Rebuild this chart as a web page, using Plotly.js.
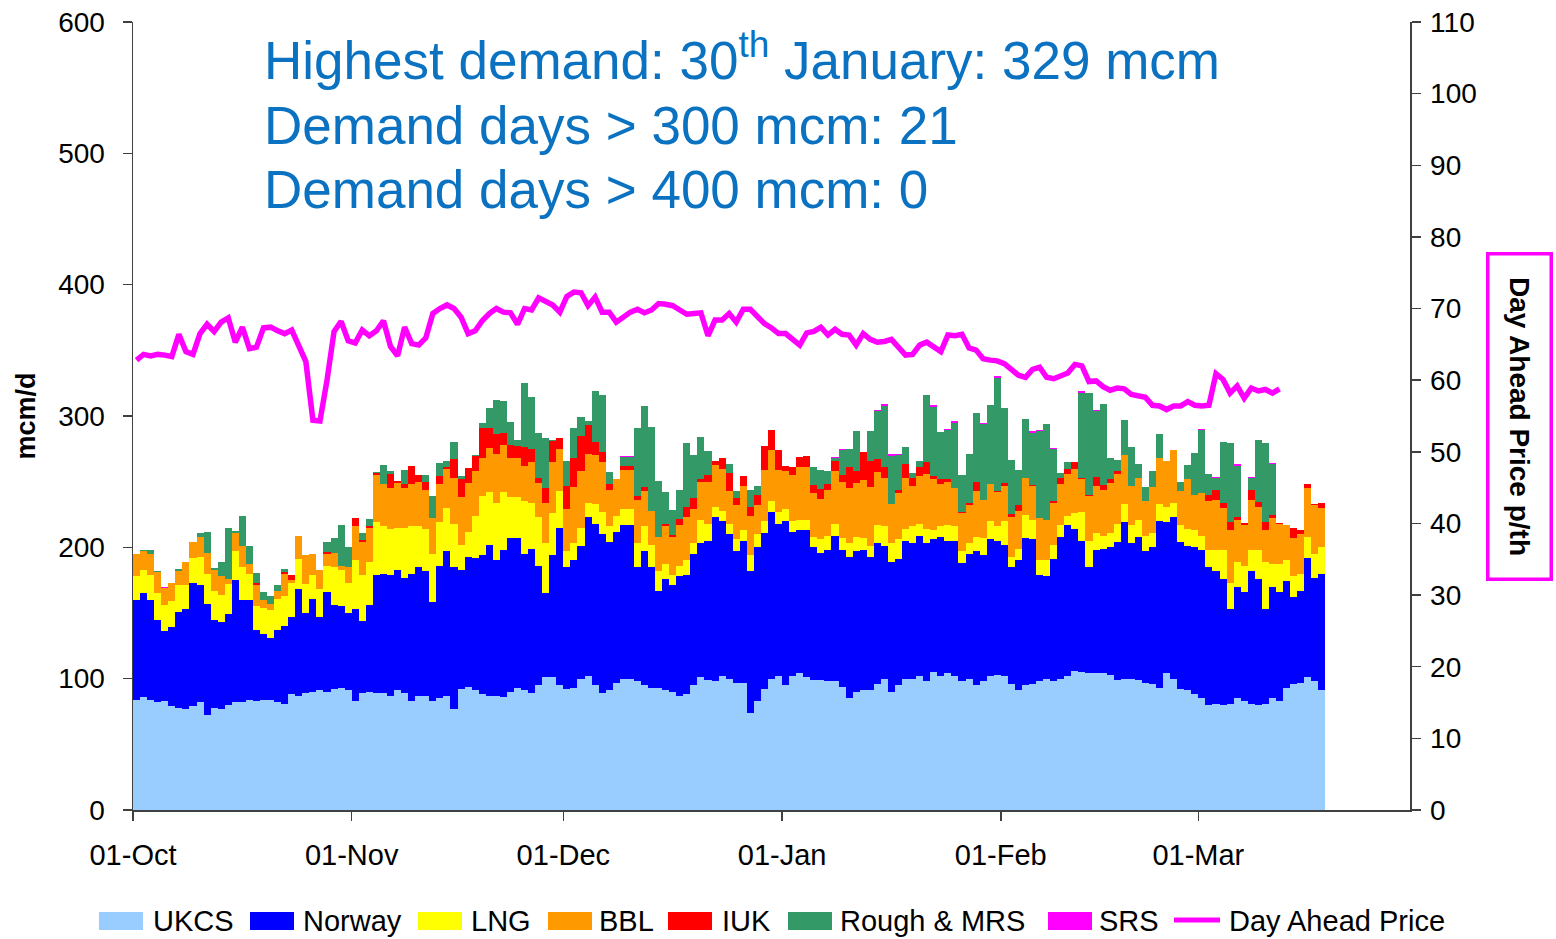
<!DOCTYPE html>
<html>
<head>
<meta charset="utf-8">
<script src="https://cdn.plot.ly/plotly-3.0.1.min.js"></script>
<style>
  html, body { margin: 0; padding: 0; background: #ffffff; }
  #chart { width: 1556px; height: 939px; }
</style>
</head>
<body>
<div id="chart"></div>
<script>
// ---- Data (daily, from 01-Oct) ----
const startDate = '2010-10-01';
const tickDates = ['2010-10-01','2010-11-01','2010-12-01','2011-01-01','2011-02-01','2011-03-01'];
const tickLabels = ['01-Oct','01-Nov','01-Dec','01-Jan','01-Feb','01-Mar'];

const ukcs = [84,86,84,82,83,79,78,77,79,82,
72,78,77,80,82,82,84,83,84,84,
82,81,88,87,89,90,91,90,92,93,
91,83,89,90,89,89,87,91,89,83,
87,87,83,85,87,77,92,94,91,88,
87,87,86,90,93,91,89,95,101,101,
95,92,93,100,102,95,89,91,97,100,
100,98,95,93,93,91,90,87,88,95,
101,99,98,102,100,97,97,74,83,92,
100,102,95,102,104,101,99,99,98,98,
94,85,90,91,91,96,100,90,95,100,
100,102,98,105,102,104,102,98,100,95,
98,102,103,102,96,91,95,96,98,100,
98,100,102,106,105,104,104,104,103,99,
100,100,99,97,96,93,104,100,92,91,
88,85,80,81,80,81,85,83,81,80,
81,85,83,93,96,97,101,98,91];

const norway = [76,79,76,63,53,60,73,76,94,89,
85,67,66,69,93,78,76,54,50,47,
55,59,59,81,61,71,56,76,64,62,
59,70,55,66,90,91,92,92,88,97,
98,95,75,101,110,108,91,99,101,106,
115,103,112,117,114,104,110,91,64,93,
120,93,97,101,121,123,121,113,115,117,
117,87,102,92,74,85,81,91,91,100,
102,106,125,118,110,100,108,108,117,119,
127,116,125,110,109,112,101,97,100,111,
104,108,107,107,102,107,101,99,96,105,
103,107,105,101,106,101,103,90,95,102,
96,104,102,100,89,99,112,110,81,78,
93,108,115,108,100,81,94,95,97,105,
119,103,109,100,104,127,115,123,112,110,
112,113,105,101,96,72,85,83,101,96,
72,85,83,81,66,70,91,79,89];

const lng = [18,18,19,20,20,20,20,18,19,22,
23,22,21,23,22,25,20,18,20,21,
24,23,26,23,22,18,21,20,29,28,
23,37,35,33,40,36,35,32,38,36,
31,32,37,33,33,33,19,19,32,45,
40,44,44,31,31,40,35,37,38,32,
28,12,13,14,11,15,17,12,12,12,
12,18,19,17,15,11,8,8,11,8,
18,13,8,8,8,9,8,12,10,9,
8,9,9,8,8,8,8,10,11,9,
9,10,11,9,8,14,15,14,15,9,
13,9,11,7,8,12,11,9,8,11,
13,14,11,18,8,9,18,15,11,12,
11,9,7,12,22,20,13,10,11,14,
14,14,13,12,11,13,12,11,13,13,
13,11,13,16,22,20,19,20,16,22,
36,17,21,16,16,13,16,18,20];

const bbl = [17,14,16,16,13,14,11,18,12,15,
16,16,14,4,14,16,7,16,6,5,
6,17,2,18,22,16,15,9,11,3,
12,26,25,26,36,32,31,34,30,32,
34,30,27,29,30,35,36,37,34,29,
34,37,36,30,30,27,31,26,31,39,
32,32,43,43,37,37,38,28,28,30,
30,33,27,26,26,29,29,31,33,26,
29,32,32,32,25,26,34,30,22,39,
39,32,29,35,40,40,33,31,35,40,
43,42,41,44,45,40,37,30,35,39,
31,36,42,39,32,33,29,29,29,35,
29,28,26,27,30,29,28,26,32,31,
32,31,32,34,25,34,36,35,38,38,
37,30,32,26,35,35,35,40,26,38,
27,32,37,38,32,40,32,31,38,33,
24,35,31,27,29,30,37,37,30];

const iuk = [0,0,0,0,0,0,0,0,0,0,
0,0,0,0,0,0,0,2.1,0,0,
0,1.6,3.9,0,0,0,0,1.3,0,0,
0,6,1.3,1,1.3,0,10.5,1.3,3.1,13.7,
5.3,5.8,0,6,1.3,14.4,14.4,11.6,11.3,22.8,
15,15.2,9.2,9.7,8.9,14.4,9.7,3.7,11,16.3,
7.9,17.6,21.8,27,21.8,10,7.9,4.2,0,3.1,
3.1,3.4,2.6,0,0,1.8,1.6,4.5,7.9,8.7,
2.1,5.3,2.4,7.9,13.7,5.8,7.4,6.8,7.6,17.9,
15,15,3.9,6,8.1,8.7,6.3,7.4,4.5,7.4,
5.3,15.8,9.2,21.8,19.7,10,7.9,0,2.6,10.2,
5.8,7.1,8.7,2.6,3.7,2.1,0,1,1.6,6.6,
0,0,0.8,2.1,2.1,3.9,0,0.8,0,0,
1.6,4.5,3.9,4.7,1,1,6.6,3.4,3.1,1.8,
0,0,0,0,0,0,0,0,0,0,
0,0,4.7,7.6,3.7,6.6,2.4,1.3,7.6,3.7,
6.6,2.4,0.8,0,7.9,3.4,2.9,1.3,3.9];

const rough = [0,0.8,2.9,1.3,0,0,1.6,0,0,2.6,
16,1.3,10.5,38.6,1.3,22.8,13.7,7.1,6,6,
4.5,1.6,0,0,0,0,0,7.4,11.3,31.2,
15,0,5.8,5.5,1.3,14.4,2.6,0,10.5,0,
0,5.5,16.8,10,4.2,13.1,2.1,0,0.8,3.9,
15.2,26,24.2,17.6,4.7,48.8,39.6,34.4,38.3,0.5,
0,18.9,23.4,13.9,3.1,39.4,43.3,8.9,0,6.6,
6.6,51.2,61.7,63.8,42.3,24.2,18.9,21.8,48.3,32.8,
31.8,17.9,0,0,6.8,5.3,0,13.1,7.1,0,
0,0,0,0,0,0,13.7,14.2,9.5,2.4,
18.6,13.7,30.7,0,22.8,36.8,47,36.8,26.8,13.4,
3.9,4.5,51.2,52.5,36.5,37,49.9,27.8,37.3,53,
58,60.1,86.4,57,41.2,26.8,44.6,39.6,66.4,72.7,
38.9,4.2,5.3,0,64.8,77.7,50.1,61.4,15.8,8.7,
27.3,29.4,10.5,11.3,11.8,18.4,0,0,6.6,10.5,
32,48,15.8,9.2,46.7,59.6,38.9,0,9.2,46.7,
59.6,38.9,0,0,0,0,0,0,0];

const srs = [0,0,0,0,0.5,0,0,0,0,0,
0,0,0,0,0,0,0,0,0,0,
0,0,0,0,0,0,0,0,0,0,
0,0,0,0,0,0,0,0,0,0,
0,0,0,0,0,0,0,0,0,0,
0,0,0,0,0,0,0,0,0,0,
0,0,0,0,0,0,0,0,0,1,
1,0,0,0,0,0,0,0,0,0,
0,0,0,0,0,0,0,0,0,0,
0,0,0,0,0,0,0,0,0,1.3,
1,0,0,0,0,1,1,1,0.8,0,
0,0,0,1,0,1,1,0,0,0,
1,0,1,0,0,0,0,1,1,0,
1,0,0,0,1,0,1,0,0,0,
0,0,0,0,0,0,0,0,0,0,
0,1.3,0,0.8,0,0,0.8,0,0.8,0,
0,0.8,0,0,0,0,0,0,0];

const price = [62.8,63.6,63.4,63.6,63.5,63.3,66.4,64.0,63.6,66.5,
67.8,66.8,68.1,68.7,65.3,67.4,64.4,64.6,67.3,67.4,
66.9,66.5,67.0,64.7,62.6,54.4,54.3,60.0,66.8,68.2,
65.5,65.2,67.0,66.2,66.9,68.3,64.7,63.4,67.4,65.1,
64.9,65.9,69.3,70.0,70.5,70.0,68.8,66.5,66.9,68.3,
69.3,70.0,69.5,69.4,67.8,70.0,69.8,71.5,71.0,70.5,
69.5,71.7,72.3,72.2,70.4,71.6,69.5,69.5,68.1,68.8,
69.5,69.9,69.4,69.8,70.7,70.6,70.4,69.8,69.2,69.3,
69.4,66.2,68.4,68.4,69.3,68.1,69.9,69.9,68.9,67.9,
67.3,66.5,66.5,65.7,64.9,66.6,66.8,67.4,66.3,67.1,
66.4,66.3,64.9,66.5,65.7,65.3,65.4,65.7,64.7,63.5,
63.6,64.9,65.3,64.6,64.0,66.3,66.2,66.4,64.5,64.2,
63.0,62.8,62.7,62.3,61.5,60.7,60.4,61.5,61.8,60.4,
60.2,60.7,61.0,62.2,62.0,59.8,59.9,59.1,58.6,58.9,
58.8,58.0,57.8,57.6,56.5,56.4,55.9,56.4,56.4,57.0,
56.5,56.4,56.5,60.9,60.1,58.2,59.2,57.5,58.9,58.5,
58.7,58.2,58.8];

const seriesNames = ['UKCS','Norway','LNG','BBL','IUK','Rough & MRS','SRS'];
const seriesColors = ['#99CCFF','#0000FF','#FFFF00','#FF9900','#FF0000','#339966','#FF00FF'];
const priceName = 'Day Ahead Price';
const priceColor = '#FF00FF';

const infoLines = [
  'Highest demand: 30<sup>th</sup> January: 329 mcm',
  'Demand days > 300 mcm: 21',
  'Demand days > 400 mcm: 0'
];

// ---- Build ----
const DAY = 86400000;
const t0 = Date.parse(startDate + 'T00:00:00Z');
function dayCenter(i) {
  return new Date(t0 + i * DAY + DAY / 2).toISOString().slice(0, 19).replace('T', ' ');
}

const FONT = 'Liberation Sans, Arial, sans-serif';
const W = 1556, H = 939;
const L = 133, R = 1410, T = 22, B = 810;
const px2x = p => (p - L) / (R - L);
const py2y = p => (B - p) / (B - T);

const allSeries = [ukcs, norway, lng, bbl, iuk, rough, srs];
const traces = allSeries.map((vals, k) => ({
  type: 'bar',
  name: seriesNames[k],
  x: vals.map((_, i) => dayCenter(i)),
  y: vals,
  marker: { color: seriesColors[k], line: { width: 0 } },
  showlegend: false,
  yaxis: 'y'
}));
traces.push({
  type: 'scatter',
  mode: 'lines',
  name: priceName,
  x: price.map((_, i) => dayCenter(i)),
  y: price,
  yaxis: 'y2',
  line: { color: priceColor, width: 5.5 },
  showlegend: false
});

const annotations = [];
const shapes = [];

// info text
const infoY = [57, 126, 190];
infoLines.forEach((txt, i) => {
  annotations.push({
    xref: 'paper', yref: 'paper', x: px2x(262), y: py2y(infoY[i]),
    xanchor: 'left', yanchor: 'middle', showarrow: false,
    text: txt, font: { family: FONT, size: 53, color: '#0A72C0' }
  });
});

// right axis title in magenta box
annotations.push({
  xref: 'paper', yref: 'paper', x: px2x(1520), y: py2y(416),
  xanchor: 'center', yanchor: 'middle', showarrow: false,
  text: '<b>Day Ahead Price p/th</b>', textangle: 90,
  font: { family: FONT, size: 28, color: '#000000' },
  bordercolor: '#FF00FF', borderwidth: 3.5, borderpad: 2,
  width: 318, height: 56, bgcolor: '#ffffff'
});

// custom legend
const legendItems = [
  { swatch: 99,  text: 151 },
  { swatch: 250, text: 301 },
  { swatch: 418, text: 469 },
  { swatch: 548, text: 597 },
  { swatch: 668, text: 720 },
  { swatch: 788, text: 838 },
  { swatch: 1048, text: 1097 }
];
const legY = 921;
legendItems.forEach((it, k) => {
  shapes.push({
    type: 'rect', xref: 'paper', yref: 'paper',
    x0: px2x(it.swatch), x1: px2x(it.swatch + 44),
    y0: py2y(930), y1: py2y(912),
    fillcolor: seriesColors[k], line: { width: 0 }
  });
  annotations.push({
    xref: 'paper', yref: 'paper', x: px2x(it.text), y: py2y(legY),
    xanchor: 'left', yanchor: 'middle', showarrow: false,
    text: seriesNames[k], font: { family: FONT, size: 29, color: '#000000' }
  });
});
shapes.push({
  type: 'line', xref: 'paper', yref: 'paper',
  x0: px2x(1174), x1: px2x(1220), y0: py2y(920), y1: py2y(920),
  line: { color: priceColor, width: 5 }
});
annotations.push({
  xref: 'paper', yref: 'paper', x: px2x(1227), y: py2y(legY),
  xanchor: 'left', yanchor: 'middle', showarrow: false,
  text: priceName, font: { family: FONT, size: 29, color: '#000000' }
});

const axisColor = '#404040';
const layout = {
  width: W, height: H,
  margin: { l: L, r: W - R, t: T, b: H - B, pad: 0 },
  paper_bgcolor: '#ffffff', plot_bgcolor: '#ffffff',
  font: { family: FONT, size: 28, color: '#000000' },
  barmode: 'stack', bargap: 0,
  showlegend: false,
  xaxis: {
    type: 'date',
    range: ['2010-10-01', '2011-03-31'],
    tickmode: 'array', tickvals: tickDates, ticktext: tickLabels,
    ticks: 'outside', ticklen: 9, tickwidth: 1.5, tickcolor: axisColor,
    showline: true, linecolor: axisColor, linewidth: 1.5,
    showgrid: false, zeroline: false,
    tickfont: { family: FONT, size: 29, color: '#000000' },
    ticklabelstandoff: 10,
    fixedrange: true
  },
  yaxis: {
    range: [0, 600], dtick: 100, tick0: 0,
    ticks: 'outside', ticklen: 9, tickwidth: 1.5, tickcolor: axisColor,
    showline: true, linecolor: axisColor, linewidth: 1.5,
    showgrid: false, zeroline: false,
    tickfont: { family: FONT, size: 28, color: '#000000' },
    ticklabelstandoff: 12,
    title: { text: '<b>mcm/d</b>', font: { family: FONT, size: 27, color: '#000000' }, standoff: 14 },
    fixedrange: true
  },
  yaxis2: {
    overlaying: 'y', side: 'right',
    range: [0, 110], dtick: 10, tick0: 0,
    ticks: 'outside', ticklen: 9, tickwidth: 1.5, tickcolor: axisColor,
    showline: true, linecolor: axisColor, linewidth: 1.5,
    showgrid: false, zeroline: false,
    tickfont: { family: FONT, size: 28, color: '#000000' },
    ticklabelstandoff: 4,
    fixedrange: true
  },
  annotations: annotations,
  shapes: shapes
};

Plotly.newPlot('chart', traces, layout, { displayModeBar: false, staticPlot: true });
</script>
</body>
</html>
